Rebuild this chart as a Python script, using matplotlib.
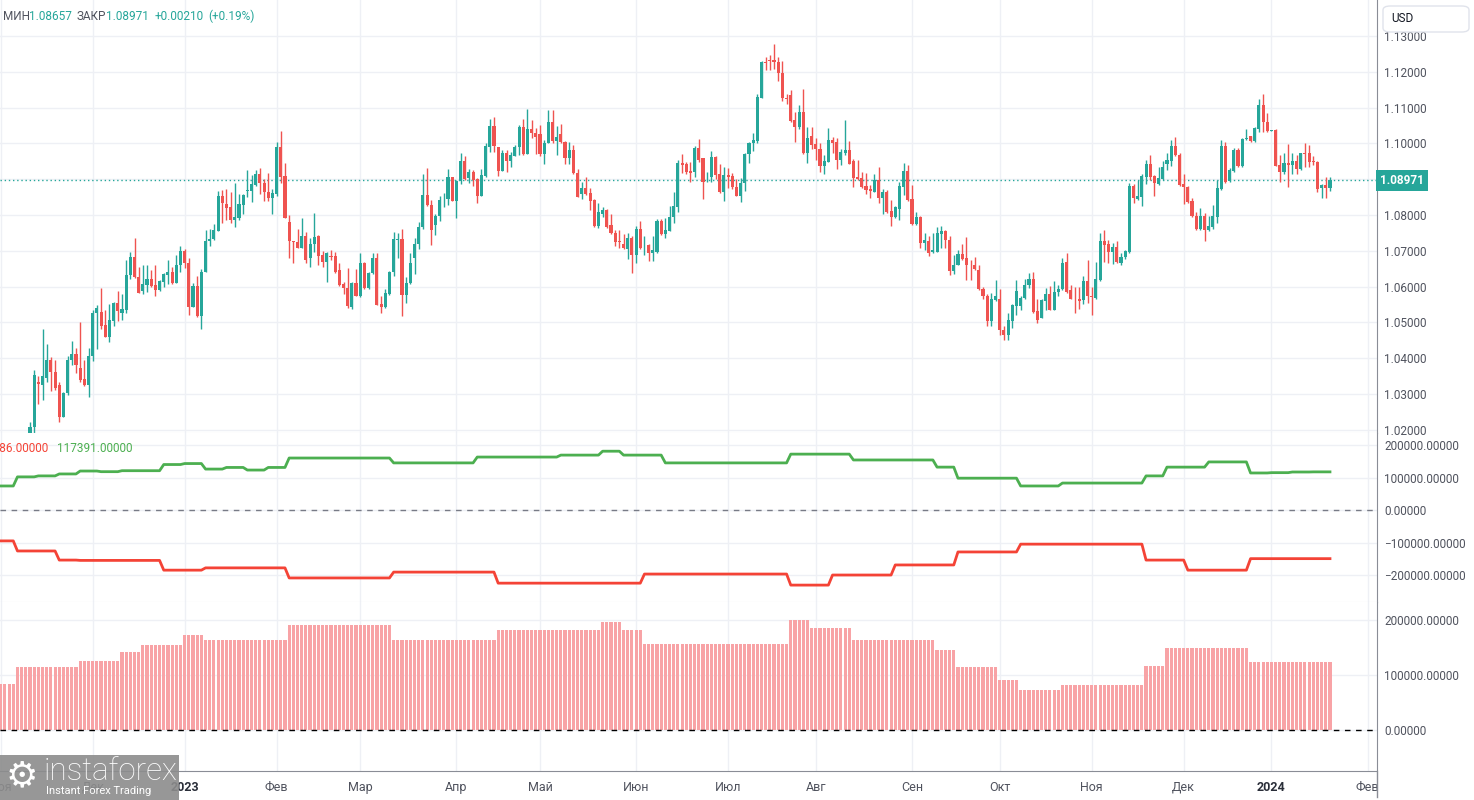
import numpy as np
import matplotlib
matplotlib.use("Agg")
import matplotlib.pyplot as plt
import matplotlib.transforms as mtransforms
from matplotlib.patches import Rectangle, FancyBboxPatch
from matplotlib.ticker import FuncFormatter

plt.rcParams['font.family'] = ['Roboto', 'DejaVu Sans']

############################
# DATA  (EUR/USD daily, 10 Nov 2022 .. 19 Jan 2024)
############################
opens = [
    1.0016, 1.0207, 1.0333, 1.0326, 1.0346, 1.0395, 1.0361, 1.0326, 1.0237, 1.0302,
    1.0395, 1.0412, 1.0374, 1.0342, 1.0326, 1.0405, 1.0527, 1.0528, 1.0493, 1.0460,
    1.0505, 1.0553, 1.0527, 1.0535, 1.0632, 1.0684, 1.0626, 1.0589, 1.0605, 1.0621,
    1.0605, 1.0591, 1.0614, 1.0633, 1.0642, 1.0609, 1.0660, 1.0700, 1.0665, 1.0544,
    1.0603, 1.0518, 1.0642, 1.0726, 1.0733, 1.0756, 1.0853, 1.0831, 1.0821, 1.0786,
    1.0791, 1.0828, 1.0867, 1.0867, 1.0884, 1.0914, 1.0890, 1.0865, 1.0848, 1.0860,
    1.0991, 1.0909, 1.0780, 1.0728, 1.0724, 1.0709, 1.0740, 1.0679, 1.0718, 1.0740,
    1.0688, 1.0670, 1.0686, 1.0686, 1.0645, 1.0606, 1.0597, 1.0542, 1.0611, 1.0574,
    1.0667, 1.0595, 1.0637, 1.0681, 1.0551, 1.0542, 1.0579, 1.0641, 1.0731, 1.0734,
    1.0577, 1.0611, 1.0680, 1.0720, 1.0767, 1.0856, 1.0829, 1.0771, 1.0796, 1.0845,
    1.0845, 1.0906, 1.0838, 1.0896, 1.0951, 1.0903, 1.0921, 1.0900, 1.0852, 1.0909,
    1.0991, 1.1048, 1.0989, 1.0924, 1.0972, 1.0952, 1.0966, 1.0991, 1.1046, 1.0970,
    1.1040, 1.1030, 1.1026, 1.0970, 1.1000, 1.1059, 1.1007, 1.1026, 1.1003, 1.0959,
    1.0981, 1.0917, 1.0859, 1.0875, 1.0861, 1.0841, 1.0769, 1.0803, 1.0815, 1.0771,
    1.0750, 1.0726, 1.0720, 1.0706, 1.0736, 1.0688, 1.0762, 1.0715, 1.0716, 1.0694,
    1.0697, 1.0784, 1.0747, 1.0756, 1.0794, 1.0823, 1.0946, 1.0942, 1.0923, 1.0919,
    1.0988, 1.0958, 1.0905, 1.0905, 1.0963, 1.0915, 1.0863, 1.0912, 1.0909, 1.0879,
    1.0854, 1.0889, 1.0970, 1.1000, 1.1007, 1.1127, 1.1227, 1.1232, 1.1232, 1.1227,
    1.1198, 1.1128, 1.1135, 1.1065, 1.1045, 1.1088, 1.0974, 1.1020, 1.0998, 1.0984,
    1.0937, 1.0949, 1.1009, 1.1005, 1.0954, 1.0972, 1.0981, 1.0951, 1.0907, 1.0903,
    1.0881, 1.0872, 1.0865, 1.0898, 1.0847, 1.0863, 1.0812, 1.0794, 1.0817, 1.0879,
    1.0923, 1.0844, 1.0774, 1.0794, 1.0722, 1.0728, 1.0697, 1.0698, 1.0747, 1.0754,
    1.0731, 1.0643, 1.0661, 1.0692, 1.0680, 1.0660, 1.0660, 1.0647, 1.0593, 1.0575,
    1.0503, 1.0563, 1.0566, 1.0480, 1.0466, 1.0503, 1.0547, 1.0546, 1.0568, 1.0605,
    1.0621, 1.0531, 1.0512, 1.0560, 1.0578, 1.0536, 1.0584, 1.0594, 1.0668, 1.0591,
    1.0566, 1.0564, 1.0562, 1.0615, 1.0574, 1.0568, 1.0619, 1.0728, 1.0720, 1.0698,
    1.0712, 1.0666, 1.0682, 1.0696, 1.0881, 1.0845, 1.0851, 1.0907, 1.0942, 1.0910,
    1.0887, 1.0900, 1.0942, 1.0952, 1.0993, 1.0967, 1.0887, 1.0877, 1.0838, 1.0798,
    1.0761, 1.0796, 1.0757, 1.0766, 1.0794, 1.0872, 1.0993, 1.0896, 1.0924, 1.0981,
    1.0937, 1.1011, 1.1020, 1.1007, 1.1040, 1.1107, 1.1060, 1.1035, 1.1037, 1.0940,
    1.0921, 1.0944, 1.0939, 1.0951, 1.0929, 1.0974, 1.0972, 1.0951, 1.0949, 1.0875,
    1.0884, 1.0876,
]
highs = [
    1.0222, 1.0366, 1.0349, 1.0482, 1.0440, 1.0403, 1.0395, 1.0333, 1.0305, 1.0407,
    1.0449, 1.0428, 1.0500, 1.0395, 1.0428, 1.0535, 1.0549, 1.0595, 1.0535, 1.0552,
    1.0558, 1.0588, 1.0579, 1.0674, 1.0698, 1.0737, 1.0656, 1.0659, 1.0659, 1.0647,
    1.0659, 1.0619, 1.0639, 1.0673, 1.0656, 1.0688, 1.0713, 1.0705, 1.0679, 1.0610,
    1.0631, 1.0650, 1.0758, 1.0761, 1.0775, 1.0868, 1.0870, 1.0874, 1.0865, 1.0888,
    1.0860, 1.0860, 1.0927, 1.0912, 1.0925, 1.0930, 1.0900, 1.0916, 1.0874, 1.1005,
    1.1034, 1.0944, 1.0801, 1.0728, 1.0761, 1.0791, 1.0753, 1.0735, 1.0805, 1.0744,
    1.0700, 1.0698, 1.0702, 1.0698, 1.0667, 1.0613, 1.0651, 1.0613, 1.0648, 1.0693,
    1.0669, 1.0641, 1.0694, 1.0694, 1.0574, 1.0593, 1.0644, 1.0752, 1.0750, 1.0762,
    1.0628, 1.0694, 1.0736, 1.0781, 1.0915, 1.0932, 1.0843, 1.0803, 1.0852, 1.0861,
    1.0928, 1.0907, 1.0898, 1.0972, 1.0965, 1.0928, 1.0926, 1.0903, 1.0929, 1.1000,
    1.1069, 1.1074, 1.0991, 1.0981, 1.0981, 1.0977, 1.0995, 1.1051, 1.1067, 1.1095,
    1.1065, 1.1044, 1.1051, 1.1009, 1.1093, 1.1093, 1.1048, 1.1054, 1.1007, 1.1005,
    1.0995, 1.0928, 1.0892, 1.0907, 1.0875, 1.0844, 1.0833, 1.0822, 1.0817, 1.0804,
    1.0759, 1.0759, 1.0748, 1.0750, 1.0741, 1.0770, 1.0782, 1.0741, 1.0718, 1.0741,
    1.0789, 1.0789, 1.0792, 1.0825, 1.0863, 1.0954, 1.0970, 1.0949, 1.0949, 1.0994,
    1.1012, 1.0960, 1.0921, 1.0980, 1.0965, 1.0942, 1.0935, 1.0932, 1.0918, 1.0900,
    1.0902, 1.0974, 1.1005, 1.1028, 1.1139, 1.1230, 1.1241, 1.1248, 1.1277, 1.1241,
    1.1230, 1.1139, 1.1149, 1.1088, 1.1107, 1.1151, 1.1046, 1.1046, 1.1016, 1.1000,
    1.0968, 1.1042, 1.1017, 1.1014, 1.0983, 1.1065, 1.1007, 1.0956, 1.0953, 1.0921,
    1.0918, 1.0884, 1.0915, 1.0933, 1.0872, 1.0870, 1.0842, 1.0824, 1.0893, 1.0944,
    1.0940, 1.0884, 1.0807, 1.0798, 1.0751, 1.0740, 1.0749, 1.0766, 1.0768, 1.0759,
    1.0740, 1.0689, 1.0701, 1.0719, 1.0738, 1.0675, 1.0684, 1.0661, 1.0600, 1.0578,
    1.0582, 1.0619, 1.0593, 1.0489, 1.0526, 1.0552, 1.0619, 1.0573, 1.0621, 1.0638,
    1.0641, 1.0564, 1.0565, 1.0596, 1.0603, 1.0617, 1.0604, 1.0680, 1.0695, 1.0605,
    1.0598, 1.0599, 1.0629, 1.0675, 1.0600, 1.0670, 1.0749, 1.0759, 1.0729, 1.0721,
    1.0726, 1.0694, 1.0703, 1.0889, 1.0887, 1.0898, 1.0915, 1.0954, 1.0967, 1.0912,
    1.0933, 1.0952, 1.0974, 1.1009, 1.1017, 1.0972, 1.0915, 1.0881, 1.0847, 1.0807,
    1.0819, 1.0805, 1.0796, 1.0828, 1.0898, 1.1009, 1.1005, 1.0930, 1.0986, 1.0986,
    1.1014, 1.1039, 1.1022, 1.1046, 1.1123, 1.1139, 1.1084, 1.1038, 1.1039, 1.0967,
    1.0972, 1.0998, 1.0972, 1.0968, 1.0974, 1.1000, 1.0995, 1.0965, 1.0951, 1.0887,
    1.0907, 1.0906,
]
lows = [
    1.0000, 1.0190, 1.0273, 1.0282, 1.0333, 1.0307, 1.0310, 1.0223, 1.0237, 1.0298,
    1.0381, 1.0358, 1.0333, 1.0321, 1.0293, 1.0393, 1.0427, 1.0482, 1.0460, 1.0445,
    1.0491, 1.0505, 1.0507, 1.0527, 1.0620, 1.0623, 1.0583, 1.0579, 1.0584, 1.0600,
    1.0575, 1.0588, 1.0598, 1.0607, 1.0607, 1.0609, 1.0640, 1.0651, 1.0521, 1.0542,
    1.0516, 1.0482, 1.0642, 1.0714, 1.0730, 1.0756, 1.0777, 1.0786, 1.0777, 1.0767,
    1.0786, 1.0803, 1.0849, 1.0837, 1.0882, 1.0859, 1.0839, 1.0839, 1.0803, 1.0853,
    1.0888, 1.0793, 1.0680, 1.0667, 1.0709, 1.0709, 1.0667, 1.0656, 1.0698, 1.0660,
    1.0656, 1.0614, 1.0674, 1.0637, 1.0602, 1.0580, 1.0540, 1.0537, 1.0574, 1.0570,
    1.0592, 1.0593, 1.0634, 1.0548, 1.0526, 1.0540, 1.0577, 1.0630, 1.0680, 1.0519,
    1.0554, 1.0606, 1.0636, 1.0706, 1.0761, 1.0824, 1.0716, 1.0745, 1.0784, 1.0821,
    1.0829, 1.0838, 1.0792, 1.0886, 1.0898, 1.0889, 1.0880, 1.0833, 1.0852, 1.0907,
    1.0977, 1.0977, 1.0910, 1.0924, 1.0919, 1.0935, 1.0965, 1.0968, 1.0968, 1.0970,
    1.1014, 1.0970, 1.0966, 1.0943, 1.1000, 1.1000, 1.0968, 1.1000, 1.0943, 1.0943,
    1.0915, 1.0849, 1.0845, 1.0856, 1.0813, 1.0766, 1.0764, 1.0794, 1.0764, 1.0748,
    1.0713, 1.0708, 1.0706, 1.0676, 1.0639, 1.0667, 1.0706, 1.0688, 1.0671, 1.0671,
    1.0694, 1.0745, 1.0736, 1.0754, 1.0777, 1.0807, 1.0918, 1.0915, 1.0893, 1.0907,
    1.0949, 1.0844, 1.0891, 1.0891, 1.0900, 1.0861, 1.0838, 1.0875, 1.0872, 1.0853,
    1.0835, 1.0868, 1.0944, 1.0980, 1.1002, 1.1127, 1.1206, 1.1206, 1.1207, 1.1175,
    1.1118, 1.1111, 1.1061, 1.1003, 1.1040, 1.0970, 1.0946, 1.0984, 1.0954, 1.0921,
    1.0915, 1.0947, 1.0974, 1.0928, 1.0940, 1.0967, 1.0942, 1.0879, 1.0898, 1.0875,
    1.0858, 1.0847, 1.0865, 1.0833, 1.0803, 1.0805, 1.0768, 1.0792, 1.0786, 1.0856,
    1.0840, 1.0772, 1.0772, 1.0707, 1.0703, 1.0686, 1.0695, 1.0696, 1.0708, 1.0708,
    1.0633, 1.0636, 1.0660, 1.0675, 1.0619, 1.0619, 1.0645, 1.0590, 1.0565, 1.0489,
    1.0491, 1.0559, 1.0466, 1.0450, 1.0452, 1.0485, 1.0522, 1.0535, 1.0565, 1.0596,
    1.0526, 1.0499, 1.0512, 1.0536, 1.0536, 1.0534, 1.0575, 1.0591, 1.0582, 1.0564,
    1.0525, 1.0538, 1.0552, 1.0554, 1.0522, 1.0564, 1.0617, 1.0668, 1.0666, 1.0662,
    1.0666, 1.0661, 1.0678, 1.0695, 1.0833, 1.0842, 1.0825, 1.0887, 1.0898, 1.0853,
    1.0884, 1.0898, 1.0926, 1.0938, 1.0965, 1.0881, 1.0831, 1.0833, 1.0794, 1.0759,
    1.0757, 1.0726, 1.0754, 1.0761, 1.0777, 1.0870, 1.0890, 1.0893, 1.0921, 1.0935,
    1.0935, 1.1009, 1.1005, 1.1005, 1.1032, 1.1032, 1.1032, 1.1034, 1.0937, 1.0893,
    1.0915, 1.0879, 1.0915, 1.0914, 1.0926, 1.0935, 1.0933, 1.0940, 1.0864, 1.0847,
    1.0847, 1.0866,
]
closes = [
    1.0207, 1.0354, 1.0327, 1.0349, 1.0395, 1.0361, 1.0318, 1.0237, 1.0302, 1.0395,
    1.0412, 1.0381, 1.0340, 1.0326, 1.0407, 1.0527, 1.0541, 1.0491, 1.0460, 1.0507,
    1.0553, 1.0533, 1.0538, 1.0633, 1.0684, 1.0626, 1.0583, 1.0607, 1.0621, 1.0603,
    1.0591, 1.0616, 1.0635, 1.0642, 1.0609, 1.0660, 1.0700, 1.0665, 1.0544, 1.0603,
    1.0518, 1.0642, 1.0727, 1.0733, 1.0758, 1.0853, 1.0833, 1.0819, 1.0786, 1.0795,
    1.0831, 1.0856, 1.0869, 1.0886, 1.0914, 1.0888, 1.0865, 1.0848, 1.0862, 1.0991,
    1.0907, 1.0793, 1.0726, 1.0725, 1.0709, 1.0740, 1.0674, 1.0718, 1.0738, 1.0686,
    1.0670, 1.0693, 1.0684, 1.0642, 1.0605, 1.0595, 1.0546, 1.0611, 1.0574, 1.0667,
    1.0595, 1.0637, 1.0681, 1.0549, 1.0544, 1.0581, 1.0641, 1.0734, 1.0734, 1.0577,
    1.0611, 1.0667, 1.0720, 1.0767, 1.0856, 1.0827, 1.0759, 1.0798, 1.0843, 1.0846,
    1.0906, 1.0840, 1.0896, 1.0951, 1.0901, 1.0921, 1.0898, 1.0852, 1.0911, 1.0994,
    1.1048, 1.0994, 1.0924, 1.0972, 1.0952, 1.0968, 1.0989, 1.1046, 1.0970, 1.1040,
    1.1028, 1.1017, 1.0970, 1.1002, 1.1059, 1.1007, 1.1019, 1.1003, 1.0960, 1.0981,
    1.0917, 1.0849, 1.0875, 1.0859, 1.0838, 1.0769, 1.0807, 1.0815, 1.0767, 1.0750,
    1.0724, 1.0724, 1.0707, 1.0736, 1.0688, 1.0762, 1.0707, 1.0716, 1.0694, 1.0701,
    1.0784, 1.0748, 1.0759, 1.0794, 1.0825, 1.0946, 1.0940, 1.0921, 1.0918, 1.0988,
    1.0954, 1.0891, 1.0907, 1.0963, 1.0912, 1.0863, 1.0912, 1.0907, 1.0877, 1.0854,
    1.0889, 1.0970, 1.1000, 1.1009, 1.1130, 1.1227, 1.1225, 1.1230, 1.1227, 1.1198,
    1.1127, 1.1125, 1.1063, 1.1046, 1.1088, 1.0972, 1.1014, 1.0995, 1.0983, 1.0937,
    1.0951, 1.1009, 1.1002, 1.0954, 1.0977, 1.0981, 1.0942, 1.0904, 1.0901, 1.0879,
    1.0870, 1.0868, 1.0898, 1.0847, 1.0863, 1.0808, 1.0794, 1.0821, 1.0881, 1.0923,
    1.0842, 1.0774, 1.0794, 1.0721, 1.0729, 1.0694, 1.0701, 1.0749, 1.0756, 1.0731,
    1.0643, 1.0661, 1.0692, 1.0677, 1.0659, 1.0659, 1.0648, 1.0593, 1.0573, 1.0503,
    1.0565, 1.0575, 1.0478, 1.0466, 1.0506, 1.0550, 1.0587, 1.0568, 1.0605, 1.0621,
    1.0528, 1.0508, 1.0562, 1.0578, 1.0536, 1.0584, 1.0594, 1.0667, 1.0585, 1.0565,
    1.0564, 1.0559, 1.0617, 1.0573, 1.0572, 1.0621, 1.0728, 1.0717, 1.0698, 1.0712,
    1.0668, 1.0684, 1.0700, 1.0881, 1.0847, 1.0853, 1.0909, 1.0942, 1.0907, 1.0889,
    1.0903, 1.0933, 1.0954, 1.0993, 1.0967, 1.0884, 1.0879, 1.0835, 1.0796, 1.0761,
    1.0796, 1.0759, 1.0768, 1.0796, 1.0875, 1.0993, 1.0893, 1.0926, 1.0981, 1.0937,
    1.1011, 1.1015, 1.1006, 1.1042, 1.1107, 1.1060, 1.1035, 1.1037, 1.0938, 1.0921,
    1.0944, 1.0940, 1.0951, 1.0929, 1.0972, 1.0970, 1.0949, 1.0949, 1.0874, 1.0884,
    1.0876, 1.0897,
]
LAST_LOW = 1.08657
LAST_CLOSE = 1.08971
LAST_CHANGE = 0.00210

# weekly COT values (first entry = partial week 1..4 Nov 2022)
green_w = [
    74000, 102000, 105000, 111000, 120000, 118000, 121000, 121000, 140000, 143000,
    126000, 131000, 123000, 131000, 160000, 160000, 160000, 160000, 160000, 145000,
    145000, 145000, 145000, 163000, 163000, 163000, 163000, 169000, 169000, 181000,
    169000, 169000, 145000, 145000, 145000, 145000, 145000, 145000, 172000, 172000,
    172000, 154000, 154000, 154000, 154000, 132000, 98000, 98000, 98000, 74000,
    74000, 83000, 83000, 83000, 83000, 105000, 132000, 132000, 148000, 148000,
    114000, 115000, 117000, 117391,
]
red_w = [
    -95000, -126000, -126000, -154000, -155000, -155000, -155000, -155000, -185000, -185000,
    -178000, -178000, -178000, -178000, -209000, -209000, -209000, -209000, -209000, -191000,
    -191000, -191000, -191000, -191000, -225000, -225000, -225000, -225000, -225000, -225000,
    -225000, -197000, -197000, -197000, -197000, -197000, -197000, -197000, -231000, -231000,
    -200000, -200000, -200000, -169000, -169000, -169000, -129000, -129000, -129000, -105000,
    -105000, -105000, -105000, -105000, -105000, -154000, -154000, -185000, -185000, -185000,
    -149586, -149586, -149586, -149586,
]
net_w = [
    84000, 115000, 115000, 115000, 125000, 125000, 142000, 155000, 155000, 173000,
    164000, 164000, 164000, 164000, 190000, 190000, 190000, 190000, 190000, 164000,
    164000, 164000, 164000, 164000, 182000, 182000, 182000, 182000, 182000, 196000,
    182000, 156000, 156000, 156000, 156000, 156000, 156000, 156000, 200000, 186000,
    186000, 164000, 164000, 164000, 164000, 145000, 115000, 115000, 91000, 73000,
    73000, 82000, 82000, 82000, 82000, 116000, 149000, 149000, 149000, 149000,
    124000, 124000, 124000, 124000,
]
week_days = [4] + [5] * 63

month_idx = [-7, 15, 37, 59, 79, 102, 122, 145, 167, 188, 211, 232, 254, 276, 297, 320]
month_lbl = ["Ноя", "Дек", "2023", "Фев", "Мар", "Апр", "Май", "Июн", "Июл",
             "Авг", "Сен", "Окт", "Ноя", "Дек", "2024", "Фев"]

############################
# STYLE
############################
UP = "#26a69a"
DOWN = "#ef5350"
GRID = "#eef0f5"
TXT = "#50535e"
W, H = 1474, 800

fig = plt.figure(figsize=(W / 100, H / 100), dpi=100)
fig.patch.set_facecolor("white")


def px_axes(x0, y0, x1, y1):
    return fig.add_axes([x0 / W, 1 - y1 / H, (x1 - x0) / W, (y1 - y0) / H])


ax1 = px_axes(0, 0, 1377, 433)
ax2 = px_axes(0, 433, 1377, 602)
ax3 = px_axes(0, 602, 1377, 771)

XMIN, XMAX = -30 / 4.18, 1347 / 4.18

for ax in (ax1, ax2, ax3):
    ax.set_xlim(XMIN, XMAX)
    ax.set_xticks(month_idx)
    ax.yaxis.tick_right()
    ax.tick_params(axis="both", length=0, labelsize=8.5, colors=TXT, pad=5)
    ax.grid(True, color=GRID, lw=1)
    ax.set_axisbelow(True)
    for s in ("left", "top"):
        ax.spines[s].set_visible(False)
    ax.spines["right"].set_color("#8a8d96")
    ax.spines["bottom"].set_color("#e0e3eb")
for ax in (ax1, ax2):
    ax.tick_params(axis="x", labelbottom=False)

############################
# PRICE PANEL
############################
o = np.array(opens)
h = np.array(highs)
l = np.array(lows)
c = np.array(closes)
idx = np.arange(len(c))
cols = np.where(c >= o, UP, DOWN)
ax1.vlines(idx, l, h, colors=cols, lw=1, zorder=2)
ax1.bar(idx, np.maximum(np.abs(c - o), 0.00005), bottom=np.minimum(o, c),
        width=0.74, color=cols, lw=0, zorder=3)
ax1.axhline(LAST_CLOSE, color=UP, lw=1, ls=(0, (1, 2)), zorder=1.5)
ax1.set_ylim(1.13 - 397 / 3580, 1.13 + 36 / 3580)
ax1.set_yticks(np.arange(1.02, 1.1301, 0.01))
# the tick hidden under the last-price tag gets no label
ax1.yaxis.set_major_formatter(
    FuncFormatter(lambda v, p: "" if abs(v - LAST_CLOSE) < 0.003 else f"{v:.5f}"))

trans = mtransforms.blended_transform_factory(ax1.transAxes, ax1.transData)
trans = trans + mtransforms.ScaledTranslation(3 / 100, 0, fig.dpi_scale_trans)
ax1.text(1.0, LAST_CLOSE, f"{LAST_CLOSE:.5f}", transform=trans, ha="left", va="center",
         color="white", fontsize=8.5, fontweight="bold", zorder=10, clip_on=False,
         bbox=dict(boxstyle="square,pad=0.35", fc=UP, ec="none"))

# header line
hdr = [("МИН", TXT, 3), (f"{LAST_LOW:.5f}", UP, 29), ("ЗАКР", TXT, 77),
       (f"{LAST_CLOSE:.5f}", UP, 106), (f"+{LAST_CHANGE:.5f}", UP, 155),
       (f"(+{LAST_CHANGE / (LAST_CLOSE - LAST_CHANGE) * 100:.2f}%)", UP, 208)]
for s, col, xp in hdr:
    fig.text(xp / W, 1 - 16 / H, s, color=col, fontsize=8.5, va="center", ha="left")

############################
# COT PANELS
############################
didx = np.arange(-7, len(c))
green_d = np.repeat(green_w, week_days)
red_d = np.repeat(red_w, week_days)
net_d = np.repeat(net_w, week_days)

fmt = FuncFormatter(lambda v, p: f"{v:.5f}".replace("-", "\u2212"))

ax2.plot(didx, green_d, color="#4caf50", lw=2, zorder=3)
ax2.plot(didx, red_d, color="#f44336", lw=2, zorder=3)
ax2.axhline(0, color="#787b86", lw=1, ls=(0, (4, 4)), zorder=2)
ax2.set_ylim(-283000, 237000)
ax2.set_yticks([-200000, -100000, 0, 100000, 200000])
ax2.yaxis.set_major_formatter(fmt)
fig.text(48 / W, 1 - 448 / H, f"{red_w[-1]:.5f}".replace("-", "\u2212"),
         color="#f44336", fontsize=8.5, ha="right", va="center")
fig.text(57 / W, 1 - 448 / H, f"{green_w[-1]:.5f}", color="#4caf50",
         fontsize=8.5, ha="left", va="center")

ax3.bar(didx, net_d, width=0.75, color="#f8a3a6", lw=0, zorder=3)
ax3.axhline(0, color="#000000", lw=1, ls=(0, (4, 4)), zorder=4)
ax3.set_ylim(-74500, 232700)
ax3.set_yticks([0, 100000, 200000])
ax3.yaxis.set_major_formatter(fmt)
ax3.spines["bottom"].set_color("#8a8d96")
ax3.set_xticklabels(month_lbl)
ax3.tick_params(axis="x", pad=7, labelsize=9)
for t in ax3.get_xticklabels():
    if t.get_text().isdigit():
        t.set_fontweight("bold")
        t.set_color("#2a2e39")

############################
# OVERLAYS
############################
# blank strip right of the time axis
fig.patches.append(Rectangle((1377.5 / W, 0), 1 - 1377.5 / W, 29 / H, transform=fig.transFigure,
                             fc="white", ec="none", zorder=5))
fig.lines.append(plt.Line2D([1377 / W, 1377 / W], [3 / H, 29 / H], transform=fig.transFigure,
                            color="#8a8d96", lw=1, zorder=6))

# currency box
fig.patches.append(FancyBboxPatch((1383 / W, 1 - 32 / H), 86 / W, 26 / H,
                                  boxstyle="round,pad=0,rounding_size=0.005",
                                  transform=fig.transFigure, fc="white", ec="#e0e3eb",
                                  lw=1, zorder=6))
fig.text(1391 / W, 1 - 19 / H, "USD", color="#131722", fontsize=8.5, va="center",
         ha="left", zorder=7)

# watermark
fig.patches.append(Rectangle((0, 0), 179 / W, 45 / H, transform=fig.transFigure,
                             fc="#8c8c8c", ec="none", alpha=0.9, zorder=8))
fig.text(22 / W, 1 - 776 / H, "\u2699", color="white", fontsize=26, ha="center",
         va="center", family="DejaVu Sans", zorder=9)
fig.text(44 / W, 1 - 772 / H, "instaforex", color="white", fontsize=22.5,
         fontweight="light", ha="left", va="center", zorder=9)
fig.text(46 / W, 1 - 791 / H, "Instant Forex Trading", color="white", fontsize=8,
         ha="left", va="center", zorder=9)

fig.savefig("out.png", dpi=100)
